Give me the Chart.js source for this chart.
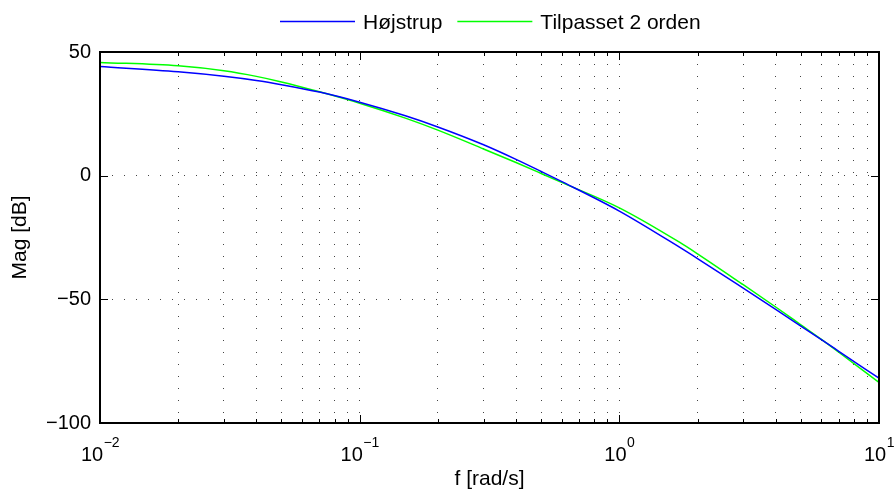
<!DOCTYPE html>
<html><head><meta charset="utf-8">
<script src="https://cdn.jsdelivr.net/npm/chart.js@4.4.1/dist/chart.umd.min.js"></script>
<style>html,body{margin:0;padding:0;background:#fff;}#wrap{width:895px;height:492px;}</style>
</head><body><div id="wrap"><canvas id="c" width="895" height="492"></canvas></div>
<script>
// ---- data ----
const freq      = [0.01, 0.02, 0.03, 0.04, 0.05, 0.07, 0.1, 0.15, 0.2, 0.3, 0.4, 0.5, 0.59, 1.0, 1.71, 2, 3, 4, 5, 6, 7, 10];
const hojstrup  = [44.1, 42.0, 40.2, 38.5, 36.8, 33.8, 29.7, 24.2, 19.7, 12.5, 6.6, 1.7, -2.0, -14.3, -29.0, -33.5, -45.5, -54.1, -60.8, -66.3, -71.0, -81.9];
const tilpasset = [45.8, 44.4, 42.4, 40.15, 37.9, 33.9, 29.3, 23.25, 18.4, 10.8, 5.3, 0.9, -2.4, -13.0, -27.0, -31.6, -44.1, -53.1, -60.3, -66.2, -71.4, -83.6];
const seriesNames = ['Højstrup', 'Tilpasset 2 orden'];
const seriesColors = ['#0000ff', '#00ff00'];
const xTickValues = [0.01, 0.1, 1, 10];
const xTickBase = ['10', '10', '10', '10'];
const xTickExponents = ['−2', '−1', '0', '1'];
const yTickValues = [-100, -50, 0, 50];
const xTitle = 'f [rad/s]';
const yTitle = 'Mag [dB]';

const FONT = "'Liberation Sans', Arial, sans-serif";

const decor = {
  id: 'decor',
  afterDraw(chart) {
    const ctx = chart.ctx;
    const a = chart.chartArea;
    const xs = chart.scales.x, ys = chart.scales.y;
    ctx.save();
    ctx.strokeStyle = '#000';
    ctx.lineWidth = 1;
    // inward tick marks
    xs.ticks.forEach(t => {
      const lg = Math.log10(t.value);
      const major = Math.abs(lg - Math.round(lg)) < 1e-9;
      const len = major ? 8 : 4;
      const px = Math.round(xs.getPixelForValue(t.value)) + 0.5;
      ctx.beginPath();
      ctx.moveTo(px, a.bottom); ctx.lineTo(px, a.bottom - len);
      ctx.moveTo(px, a.top); ctx.lineTo(px, a.top + len);
      ctx.stroke();
    });
    yTickValues.forEach(v => {
      const py = Math.round(ys.getPixelForValue(v)) + 0.5;
      ctx.beginPath();
      ctx.moveTo(a.left, py); ctx.lineTo(a.left + 8, py);
      ctx.moveTo(a.right, py); ctx.lineTo(a.right - 8, py);
      ctx.stroke();
    });
    // box
    ctx.lineWidth = 2;
    ctx.strokeRect(Math.round(a.left), Math.round(a.top), Math.round(a.right - a.left), Math.round(a.bottom - a.top));
    // x tick labels 10^n
    ctx.fillStyle = '#000';
    ctx.textBaseline = 'alphabetic';
    ctx.textAlign = 'left';
    xTickValues.forEach((v, i) => {
      const px = xs.getPixelForValue(v);
      ctx.font = '20px ' + FONT;
      const wb = ctx.measureText(xTickBase[i]).width;
      ctx.font = '14px ' + FONT;
      const we = ctx.measureText(xTickExponents[i]).width;
      const x0 = px - (wb + we) / 2;
      ctx.font = '20px ' + FONT;
      ctx.fillText(xTickBase[i], x0, a.bottom + 38);
      ctx.font = '14px ' + FONT;
      ctx.fillText(xTickExponents[i], x0 + wb + 0.5, a.bottom + 24);
    });
    // legend
    let lx = 280;
    const ly = 21.5;
    ctx.font = '21px ' + FONT;
    chart.data.datasets.forEach(ds => {
      ctx.strokeStyle = ds.borderColor;
      ctx.lineWidth = 1.5;
      ctx.beginPath();
      ctx.moveTo(lx, ly); ctx.lineTo(lx + 75, ly);
      ctx.stroke();
      ctx.fillStyle = '#000';
      ctx.fillText(ds.label, lx + 83, 29);
      lx = lx + 83 + ctx.measureText(ds.label).width + 15;
    });
    ctx.restore();
  }
};

const mk = (vals, i) => ({
  label: seriesNames[i],
  data: freq.map((f, k) => ({ x: f, y: vals[k] })),
  borderColor: seriesColors[i],
  backgroundColor: seriesColors[i],
  borderWidth: 1.5,
  pointRadius: 0,
  cubicInterpolationMode: 'monotone',
  fill: false
});

new Chart(document.getElementById('c'), {
  type: 'line',
  data: { datasets: [mk(hojstrup, 0), mk(tilpasset, 1)] },
  options: {
    responsive: false,
    devicePixelRatio: 1,
    animation: false,
    layout: { padding: { top: 52, right: 16, left: 0, bottom: 0 } },
    plugins: { legend: { display: false }, tooltip: { enabled: false } },
    scales: {
      x: {
        type: 'logarithmic',
        min: 0.01, max: 10,
        afterBuildTicks: s => {
          s.ticks = s.ticks.filter(t => {
            const m = t.value / Math.pow(10, Math.floor(Math.log10(t.value) + 1e-9));
            return Math.abs(m - Math.round(m)) < 1e-6;
          });
        },
        afterFit: s => { s.height = 69; },
        ticks: { display: false },
        grid: { color: '#444', lineWidth: 1, drawTicks: false },
        border: { display: false, dash: [1, 11] },
        title: { display: true, text: xTitle, font: { family: FONT, size: 21 }, color: '#000', padding: { top: 0, bottom: 0 } }
      },
      y: {
        min: -100, max: 50,
        afterBuildTicks: s => { s.ticks = yTickValues.map(v => ({ value: v })); },
        afterFit: s => { s.width = 100; },
        ticks: {
          font: { family: FONT, size: 20 }, color: '#000', padding: 9,
          callback: v => String(v).replace('-', '−')
        },
        grid: { color: '#444', lineWidth: 1, drawTicks: false },
        border: { display: false, dash: [1, 11] },
        title: { display: true, text: yTitle, font: { family: FONT, size: 21 }, color: '#000', padding: { top: 8, bottom: 0 } }
      }
    }
  },
  plugins: [decor]
});
</script></body></html>
